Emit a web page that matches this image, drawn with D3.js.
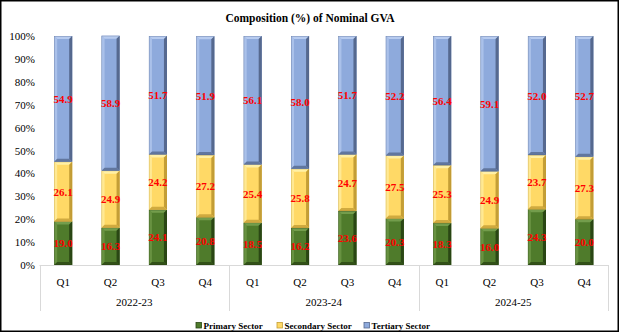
<!DOCTYPE html>
<html>
<head>
<meta charset="utf-8">
<script src="https://cdn.jsdelivr.net/npm/d3@7/dist/d3.min.js"></script>
<style>
  html, body { margin: 0; padding: 0; background: #fff; }
  svg { display: block; }
</style>
</head>
<body>
<svg id="chart" width="619" height="332"></svg>
<script>
// Composition (%) of Nominal GVA by quarter
const years = ["2022-23", "2023-24", "2024-25"];
const quarters = ["Q1", "Q2", "Q3", "Q4"];
const seriesNames = ["Primary Sector", "Secondary Sector", "Tertiary Sector"];
const primary   = [19.0, 16.3, 24.1, 20.8, 18.5, 16.2, 23.6, 20.3, 18.3, 16.0, 24.3, 20.0];
const secondary = [26.1, 24.9, 24.2, 27.2, 25.4, 25.8, 24.7, 27.5, 25.3, 24.9, 23.7, 27.3];
const tertiary  = [54.9, 58.9, 51.7, 51.9, 56.1, 58.0, 51.7, 52.2, 56.4, 59.1, 52.0, 52.7];
const yTicks = [0, 10, 20, 30, 40, 50, 60, 70, 80, 90, 100];

const W = 619, H = 332;
const margin = { left: 39.5, right: 11, top: 36, bottom: 67 };
const svg = d3.select("#chart");
const serif = "'Liberation Serif', 'Times New Roman', serif";

const palette = [
  { face: "#4f7b2b", light: "#739d4c", dark: "#2a4714", edge: "#243d12" },
  { face: "#ffd966", light: "#fff0a6", dark: "#c49e36", edge: "#b8942e" },
  { face: "#8eaadc", light: "#b7cbef", dark: "#56698f", edge: "#4f6288" }
];

// Rows: one per bar, with year/quarter and stacked values
const rows = [];
years.forEach((yr, yi) => quarters.forEach((q, qi) => {
  const i = yi * quarters.length + qi;
  rows.push({ key: yr + "-" + q, year: yr, q, vals: [primary[i], secondary[i], tertiary[i]] });
}));

const x = d3.scaleBand()
  .domain(rows.map(r => r.key))
  .range([margin.left, W - margin.right])
  .paddingInner(0.62).paddingOuter(0.31);
const y = d3.scaleLinear().domain([0, 100]).range([H - margin.bottom, margin.top]);

// border
svg.append("rect").attr("x", 0.75).attr("y", 0.75).attr("width", W - 1.5).attr("height", H - 1.5)
  .attr("fill", "#fff").attr("stroke", "#000").attr("stroke-width", 1.5);

// title
svg.append("text").attr("x", 310).attr("y", 22).attr("text-anchor", "middle")
  .attr("font-family", serif).attr("font-weight", "bold").attr("font-size", 11.5)
  .attr("fill", "#000").text("Composition (%) of Nominal GVA");

// y axis labels
const yAxis = d3.axisLeft(y).tickValues(yTicks).tickFormat(d => d + "%").tickSize(0).tickPadding(4);
const yg = svg.append("g").attr("transform", `translate(${margin.left - 0.5},0)`).call(yAxis);
yg.select(".domain").remove();
yg.selectAll("text").attr("font-family", serif).attr("font-size", 11).attr("fill", "#000");

// x axis: baseline, quarter labels, year group separators
const base = y(0);
const axisColor = "#d9d9d9";
svg.append("line").attr("x1", margin.left).attr("x2", W - margin.right)
  .attr("y1", base + 0.5).attr("y2", base + 0.5).attr("stroke", axisColor);

const groupW = x.step() * quarters.length;
years.forEach((yr, yi) => {
  const gx0 = margin.left + yi * groupW;
  svg.append("text").attr("x", gx0 + groupW / 2).attr("y", 306).attr("text-anchor", "middle")
    .attr("font-family", serif).attr("font-size", 11).attr("fill", "#000").text(yr);
});
d3.range(years.length + 1).forEach(i => {
  const gx = Math.round(margin.left + i * groupW) + 0.5;
  svg.append("line").attr("x1", gx).attr("x2", gx).attr("y1", base).attr("y2", 311)
    .attr("stroke", axisColor);
});
svg.selectAll("text.q").data(rows).join("text").attr("class", "q")
  .attr("x", d => x(d.key) + x.bandwidth() / 2).attr("y", 286).attr("text-anchor", "middle")
  .attr("font-family", serif).attr("font-size", 11).attr("fill", "#000").text(d => d.q);

// stacked bevelled bars
const stack = d3.stack().keys([0, 1, 2]).value((d, k) => d.vals[k]);
const layers = stack(rows);
const bev = 3;

layers.forEach((layer, si) => {
  const c = palette[si];
  const g = svg.append("g");
  layer.forEach(seg => {
    const d = seg.data;
    const x0 = x(d.key), x1 = x0 + x.bandwidth();
    const yT = y(seg[1]), yB = y(seg[0]);
    // face
    g.append("rect").attr("x", x0).attr("y", yT).attr("width", x1 - x0).attr("height", yB - yT)
      .attr("fill", c.face);
    // top bevel
    g.append("polygon").attr("points", [[x0, yT], [x1, yT], [x1 - bev, yT + bev], [x0 + bev, yT + bev]].join(" "))
      .attr("fill", c.light);
    // left bevel
    g.append("polygon").attr("points", [[x0, yT], [x0 + bev, yT + bev], [x0 + bev, yB - bev], [x0, yB]].join(" "))
      .attr("fill", c.light).attr("opacity", 0.7);
    // right bevel
    g.append("polygon").attr("points", [[x1, yT], [x1, yB], [x1 - bev, yB - bev], [x1 - bev, yT + bev]].join(" "))
      .attr("fill", c.dark);
    // bottom bevel
    g.append("polygon").attr("points", [[x0, yB], [x1, yB], [x1 - bev, yB - bev], [x0 + bev, yB - bev]].join(" "))
      .attr("fill", c.dark).attr("opacity", 0.8);
    g.append("rect").attr("x", x0 + 0.25).attr("y", yT + 0.25).attr("width", x1 - x0 - 0.5).attr("height", yB - yT - 0.5)
      .attr("fill", "none").attr("stroke", c.edge).attr("stroke-width", 0.5).attr("opacity", 0.6);
  });
});

// value labels
layers.forEach((layer, si) => {
  svg.append("g").selectAll("text").data(layer).join("text")
    .attr("x", d => x(d.data.key) + x.bandwidth() / 2)
    .attr("y", d => (y(d[0]) + y(d[1])) / 2 + 4)
    .attr("text-anchor", "middle")
    .attr("font-family", serif).attr("font-weight", "bold").attr("font-size", 11)
    .attr("fill", "#ff0000")
    .text(d => d.data.vals[si].toFixed(1));
});

// legend
const legendX = [196, 277, 364];
const lg = svg.append("g");
seriesNames.forEach((name, i) => {
  const c = palette[i];
  lg.append("rect").attr("x", legendX[i]).attr("y", 322.5).attr("width", 5.5).attr("height", 5.5)
    .attr("fill", c.face).attr("stroke", c.dark).attr("stroke-width", 0.8);
  lg.append("text").attr("x", legendX[i] + 7.5).attr("y", 329)
    .attr("font-family", serif).attr("font-weight", "bold").attr("font-size", 9)
    .attr("fill", "#000").text(name);
});
</script>
</body>
</html>
